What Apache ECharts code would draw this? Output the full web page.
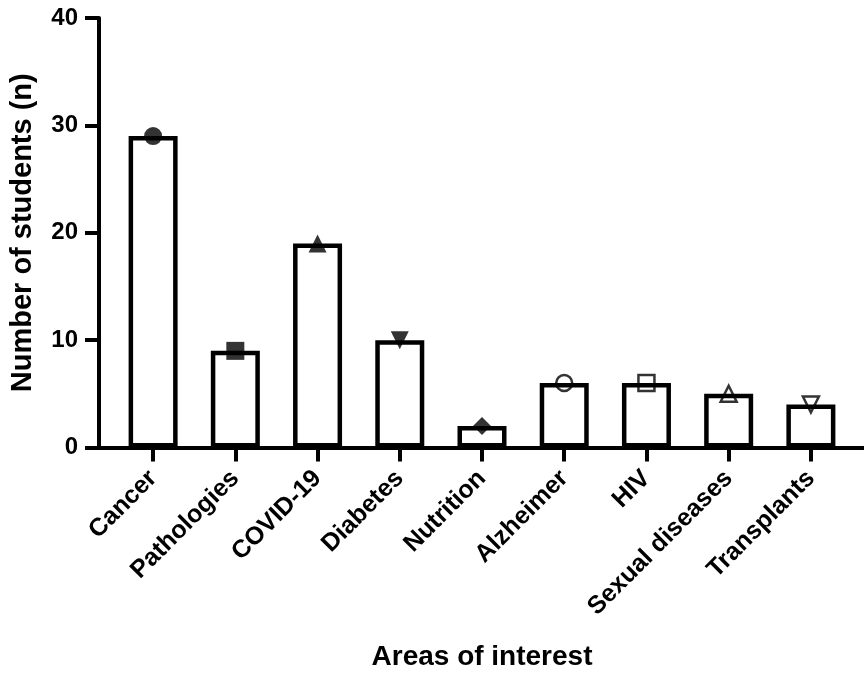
<!DOCTYPE html>
<html>
<head>
<meta charset="utf-8">
<script src="https://cdn.jsdelivr.net/npm/echarts@6/dist/echarts.min.js"></script>
<style>
html,body{margin:0;padding:0;background:#fff;}
#chart{width:864px;height:674px;}
</style>
</head>
<body>
<div id="chart"></div>
<script>
var categories = ['Cancer','Pathologies','COVID-19','Diabetes','Nutrition','Alzheimer','HIV','Sexual diseases','Transplants'];
var counts = [29, 9, 19, 10, 2, 6, 6, 5, 4];
var yTicks = [0, 10, 20, 30, 40];
var yTitle = 'Number of students (n)';
var xTitle = 'Areas of interest';

var FONT = '"Liberation Sans", Arial, sans-serif';
var markerShape = ['circle','rect','triangle','triangle','diamond','circle','rect','triangle','triangle'];
var markerRot = [0,0,0,180,0,0,0,0,180];
var markerFilled = [true,true,true,true,true,false,false,false,false];

var scatterData = counts.map(function(v,i){
  var filled = markerFilled[i];
  return {
    value: v,
    symbol: markerShape[i],
    symbolRotate: markerRot[i],
    symbolSize: filled ? 18 : 16,
    itemStyle: filled ? {color:'#000', borderWidth:0} : {color:'rgba(0,0,0,0)', borderColor:'#000', borderWidth:2.5}
  };
});

var chart = echarts.init(document.getElementById('chart'), null, {renderer:'canvas'});
var option = {
  animation: false,
  backgroundColor: '#fff',
  grid: [
    {left:112, right:12, top:18, bottom:226.5, containLabel:false, outerBoundsMode:'none'},
    {left:99, right:0, top:18, bottom:226.5, containLabel:false, outerBoundsMode:'none'}
  ],
  xAxis: [
    {
      type:'category', gridIndex:0, data: categories,
      axisLine:{show:false},
      axisTick:{show:true, alignWithLabel:true, length:14, lineStyle:{color:'#000', width:4}},
      axisLabel:{rotate:45, margin:27, fontFamily:FONT, fontWeight:'bold', fontSize:25, color:'#000', interval:0},
      name: xTitle, nameLocation:'middle', nameGap:196,
      nameTextStyle:{fontFamily:FONT, fontWeight:'bold', fontSize:28, color:'#000'}
    },
    {
      type:'value', gridIndex:1, min:0, max:1,
      axisLine:{show:true, lineStyle:{color:'#000', width:4}},
      axisTick:{show:false}, axisLabel:{show:false}, splitLine:{show:false}
    }
  ],
  yAxis: [
    {
      type:'value', gridIndex:0, min:0, max:40, interval:10, offset:13,
      axisLine:{show:true, lineStyle:{color:'#000', width:4}},
      axisTick:{show:true, length:14, lineStyle:{color:'#000', width:4}},
      axisLabel:{margin:21, fontFamily:FONT, fontWeight:'bold', fontSize:24, color:'#000',
        formatter:function(v){ return yTicks.indexOf(v) >= 0 ? String(v) : ''; }},
      splitLine:{show:false},
      name: yTitle, nameLocation:'middle', nameGap:62, nameRotate:90,
      nameTextStyle:{fontFamily:FONT, fontWeight:'bold', fontSize:29, color:'#000'}
    },
    {
      type:'value', gridIndex:1, min:0, max:40, show:false
    }
  ],
  series: [
    {
      type:'bar', xAxisIndex:0, yAxisIndex:0, data: counts, barWidth:49,
      itemStyle:{color:'#fff', borderColor:'#000', borderWidth:4.5},
      z:2
    },
    {
      type:'scatter', xAxisIndex:0, yAxisIndex:0, data: scatterData, z:5
    }
  ]
};
chart.setOption(option);
</script>
</body>
</html>
